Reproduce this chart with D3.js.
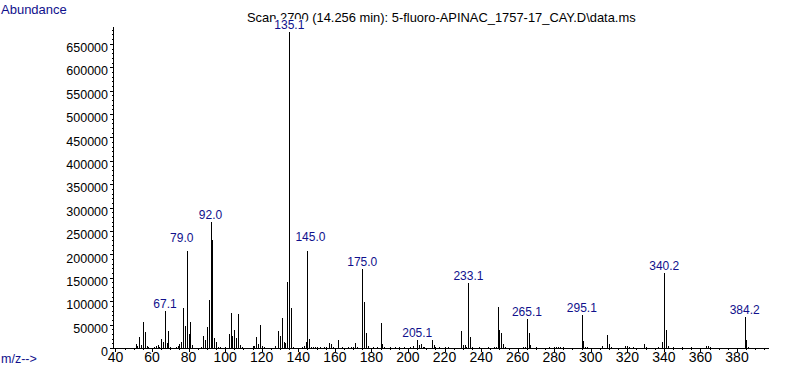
<!DOCTYPE html>
<html><head><meta charset="utf-8">
<script src="https://cdn.jsdelivr.net/npm/d3@7"></script>
<style>
html,body{margin:0;padding:0;background:#fff;}
svg{display:block;font-family:"Liberation Sans",Arial,sans-serif;}
</style></head>
<body><svg id="c" width="787" height="367"></svg>
<script>
// ---- data ----
const mzValues = [51,52,53,54,55,56,57,58,61,62,63,64,65,66,67.1,68,69,70,73,74,75,76,77,78,79.0,80,81,82,
 87,88,89,90,91,92.0,93,94,95,96,97,100,102,103,104,105,106,107,108,109,115,116,117,118,119,120,121,127,
 129,130,131,132,133,134,135.1,136,137,142,143,144,145.0,146,147,148,149,150,152,154,155,157,158,159,162,164,
 167,169,170,171,172,175.0,176,177,178,181,183,185,186,187,190,193,195,198,201,203,205.1,206,207,208,209,
 213,214,215,217,220,222,229,230,231,232,233.1,234,235,239,244,247,248,249,250,251,252,253,263,264,265.1,266,267,
 270,277,280,281,282,283,285,295.1,296,297,298,306,309,310,311,319,320,321,323,329,330,337,339,340.2,341,342,
 345,350,355,363,364,365,384.2,385,386];
const abundanceValues = [8000,4000,23500,6000,55500,34000,4000,3000,3000,5000,6000,2500,19000,12000,79000,10000,36000,2500,2000,5000,8000,13500,86000,47500,207000,30000,55500,6000,
 2500,26000,18000,45500,102500,270000,231000,22000,13500,3000,3000,2500,30000,75000,26000,38500,22000,73500,6000,2500,4000,5000,24000,8000,49000,5000,3000,4000,
 36000,25500,64000,13500,10000,141500,675000,86000,2500,2500,4000,13500,207000,18500,2500,2500,2000,2000,2000,2000,3000,11500,8000,2500,17000,2500,
 2500,3000,2500,11500,2500,169000,98000,31500,4000,2500,2500,54000,8000,2500,2500,3000,3000,2500,3000,4000,18000,6000,8000,2500,2000,
 17000,6000,2500,2000,2000,2000,36000,7000,7000,2500,139500,23500,2000,2000,2000,2500,3000,87500,39000,32000,8000,2000,2000,3000,62000,32000,6000,
 2000,2000,2500,2500,2500,2500,2000,70500,15000,2500,2000,5000,28000,8000,2500,3500,3500,2500,2000,8000,2000,2000,12000,161000,39000,4000,
 2000,2000,2000,4000,4000,2000,65500,17000,2500];
const labeledPeaks = ["67.1","79.0","92.0","135.1","145.0","175.0","205.1","233.1","265.1","295.1","340.2","384.2"];
const xTickValues = [40,60,80,100,120,140,160,180,200,220,240,260,280,300,320,340,360,380];
const yTickValues = [0,50000,100000,150000,200000,250000,300000,350000,400000,450000,500000,550000,600000,650000];
const xDomain = [38.65, 397.5];
const yDomain = [0, 686000];
const titleText = "Scan 2700 (14.256 min): 5-fluoro-APINAC_1757-17_CAY.D\\data.ms";

// ---- drawing ----
const svg = d3.select("#c");
const navy = "#10108c";
const x = d3.scaleLinear().domain(xDomain).range([113, 769]);
const y = d3.scaleLinear().domain(yDomain).range([348, 27]);

// title
svg.append("text").attr("x", 247).attr("y", 22).attr("font-size", 12.9).attr("fill", "#000").text(titleText);
svg.append("text").attr("x", 1).attr("y", 14).attr("font-size", 13).attr("fill", navy).text("Abundance");
svg.append("text").attr("x", 1).attr("y", 363).attr("font-size", 12.5).attr("fill", navy).text("m/z-->");

// bars
const peaks = mzValues.map((m, i) => ({mz: m, v: abundanceValues[i]}));
svg.append("g").selectAll("rect").data(peaks).join("rect")
  .attr("x", d => Math.round(x(d.mz)))
  .attr("y", d => Math.round(y(d.v)))
  .attr("width", 1)
  .attr("height", d => 348 - Math.round(y(d.v)))
  .attr("fill", "#000").attr("shape-rendering", "crispEdges");

// axes lines
svg.append("line").attr("x1", 113.5).attr("x2", 113.5).attr("y1", 27).attr("y2", 349).attr("stroke", "#000");
svg.append("line").attr("x1", 113).attr("x2", 769).attr("y1", 348.5).attr("y2", 348.5).attr("stroke", "#000");

// y ticks
const yMinor = d3.range(0, 686000, 10000);
svg.append("g").selectAll("line").data(yMinor).join("line")
  .attr("x1", d => d % 50000 === 0 ? 110 : 112).attr("x2", 113)
  .attr("y1", d => Math.round(y(d)) + 0.5).attr("y2", d => Math.round(y(d)) + 0.5)
  .attr("stroke", "#000");
svg.append("g").selectAll("text").data(yTickValues).join("text")
  .attr("x", 108).attr("y", d => y(d) + 8.2).attr("text-anchor", "end")
  .attr("font-size", 12.5).attr("fill", "#000").text(d => d);

// x ticks
const xMinor = d3.range(40, 396, 5);
svg.append("g").selectAll("line").data(xMinor).join("line")
  .attr("x1", d => Math.round(x(d)) + 0.5).attr("x2", d => Math.round(x(d)) + 0.5)
  .attr("y1", 348).attr("y2", d => d % 20 === 0 ? 352 : 350)
  .attr("stroke", "#000");
svg.append("g").selectAll("text").data(xTickValues).join("text")
  .attr("x", d => x(d)).attr("y", 362).attr("text-anchor", "middle")
  .attr("font-size", 14).attr("fill", "#000").text(d => d);

// peak labels
const nudge = {"79.0": [-5, -6], "145.0": [3, -7]};
const lab = svg.append("g");
labeledPeaks.forEach(s => {
  const p = peaks.find(d => Math.abs(d.mz - (+s)) < 1e-6);
  const n = nudge[s] || [0, 0];
  const cx = x(p.mz) + n[0], by = y(p.v) - 3 + n[1];
  const t = lab.append("text").attr("x", cx).attr("y", by).attr("text-anchor", "middle")
    .attr("font-size", 12).attr("fill", navy).text(s);
  const bb = t.node().getBBox();
  lab.insert("rect", "text").attr("x", bb.x - 1).attr("y", by - 10).attr("width", bb.width + 2).attr("height", 11).attr("fill", "#fff");
});
</script></body></html>
